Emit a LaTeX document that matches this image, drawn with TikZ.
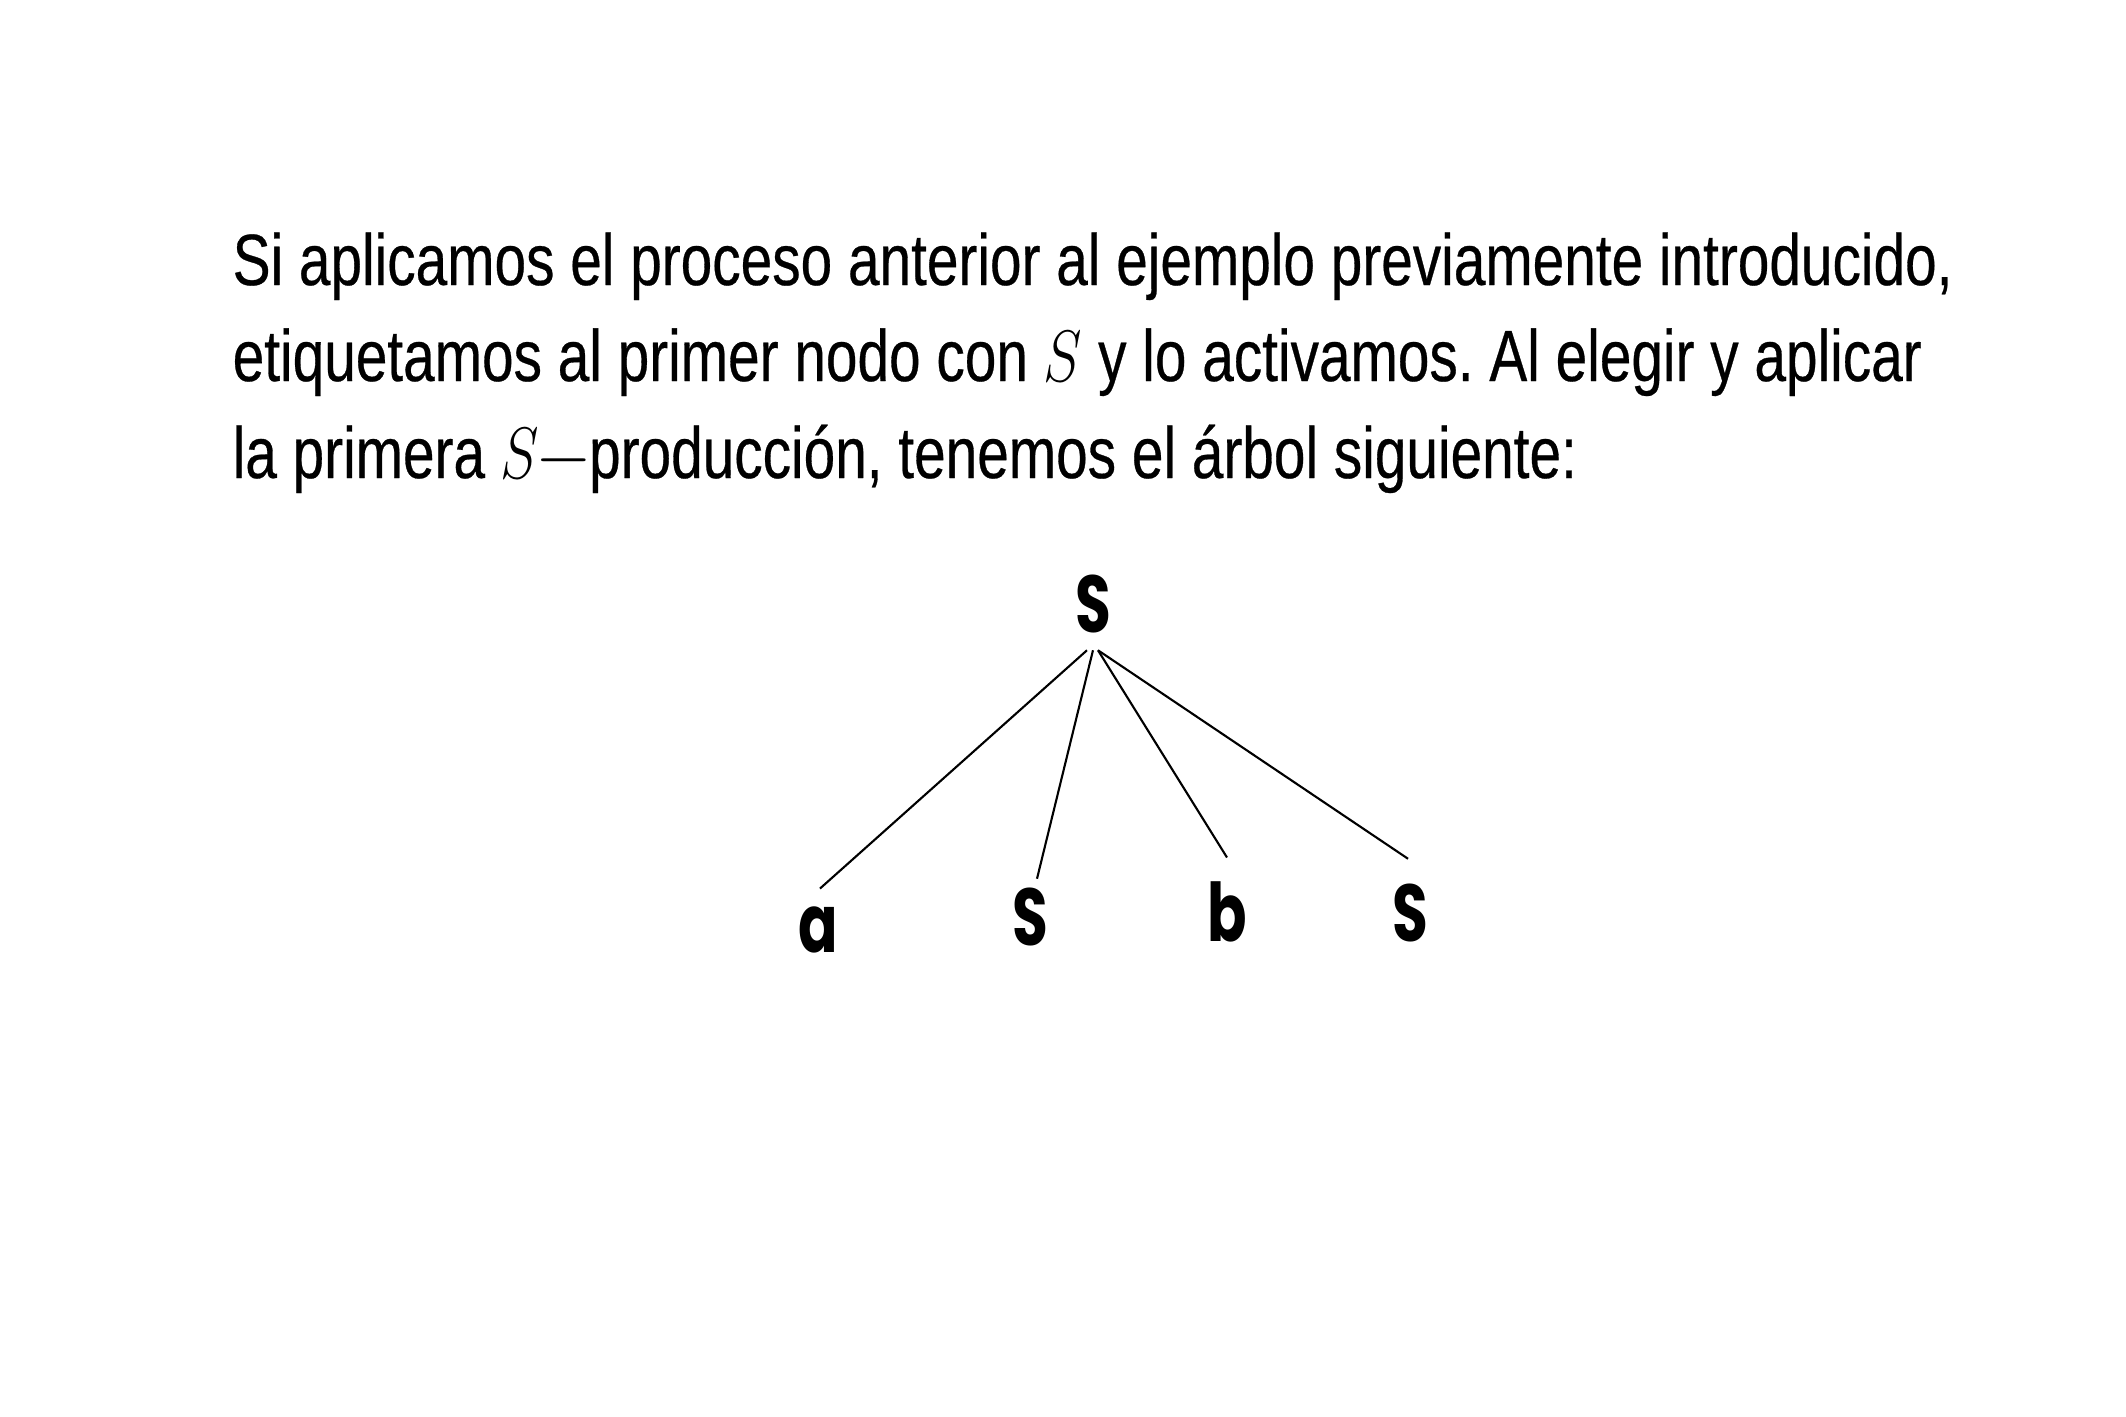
\documentclass[tikz,border=0pt]{standalone}
\usepackage{fontspec}
\usepackage{graphicx}
\setmainfont{Liberation Sans}[FakeStretch=0.782,FakeBold=0.4]
\newfontfamily\treefont{Poppins}[FakeStretch=0.72]
\newcommand{\mS}{\scalebox{0.8}[1]{$S$}}
\frenchspacing
\begin{document}
\begin{tikzpicture}
\useasboundingbox (0,0) rectangle (21.26,-14.17);
% the three lines of text
\begin{scope}[every node/.style={anchor=base west,inner sep=0pt,font=\fontsize{20.66pt}{27.9pt}\selectfont}]
\node (l1) at (2.32,-2.85) {Si aplicamos el proceso anterior al ejemplo previamente introducido,};
\node (l2) at (2.32,-3.81) {etiquetamos al primer nodo con \mS{} y lo activamos. Al elegir y aplicar};
\node (l3) at (2.32,-4.78) {la primera \mS\kern-1pt$-$\kern-1pt producción, tenemos el árbol siguiente:};
\end{scope}
% the tree
\begin{scope}[every node/.style={anchor=base,inner sep=0pt,font=\treefont\bfseries\fontsize{23pt}{23pt}\selectfont}]
\node (root) at (10.93,-6.32) {S};
\foreach \n/\t/\x/\y in {a/a/8.18/-9.52, s1/S/10.30/-9.45, b/b/12.27/-9.41, s2/S/14.10/-9.41} % edit here for the leaves
\node (\n) at (\x,\y) {\t};
\end{scope}
\draw[line width=0.6pt] ([xshift=-0.6mm,yshift=-1.7mm]root.south) -- ([xshift=0.2mm,yshift=1.7mm]a.north);
\draw[line width=0.6pt] ([yshift=-1.7mm]root.south) -- ([xshift=0.7mm,yshift=0.8mm]s1.north);
\draw[line width=0.6pt] ([xshift=0.5mm,yshift=-1.7mm]root.south) -- ([yshift=2.3mm]b.north);
\draw[line width=0.6pt] ([xshift=0.5mm,yshift=-1.7mm]root.south) -- ([xshift=-0.2mm,yshift=2.4mm]s2.north);
\end{tikzpicture}
\end{document}
